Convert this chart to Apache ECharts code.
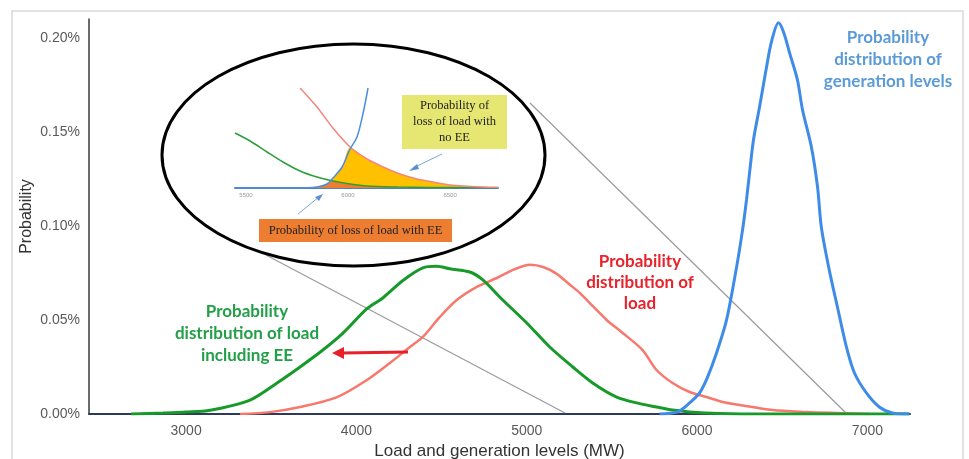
<!DOCTYPE html>
<html>
<head>
<meta charset="utf-8">
<script src="https://cdn.jsdelivr.net/npm/echarts@6/dist/echarts.min.js"></script>
<style>
  html, body { margin: 0; padding: 0; background: #fff; }
  #chart { width: 969px; height: 459px; }
</style>
</head>
<body>
<div id="chart"></div>
<script>
// tick labels
var xTicks = [3000, 4000, 5000, 6000, 7000]
var yTicks = [0, 0.05, 0.10, 0.15, 0.20]
var insetTicks = [5500, 6000, 6500]

// main curves: [MW, probability in %]
var loadCurve = [
  [3317, 0], [3493, 0.001], [3669, 0.0037], [3886, 0.009], [4062, 0.0181], [4196, 0.0271],
  [4314, 0.0356], [4390, 0.041], [4490, 0.0516], [4589, 0.0606], [4707, 0.0676], [4824, 0.0723],
  [4930, 0.077], [5018, 0.0793], [5100, 0.078], [5176, 0.0745], [5250, 0.069], [5311, 0.0644],
  [5370, 0.059], [5469, 0.05], [5563, 0.0431], [5680, 0.034], [5762, 0.0234], [5856, 0.0165],
  [5956, 0.0117], [6056, 0.009], [6150, 0.0064], [6249, 0.0048], [6443, 0.0021], [6642, 0.0011],
  [6836, 0.0005], [7012, 0]
]
var loadEECurve = [
  [2677, 0], [2865, 0.0005], [3000, 0.001], [3141, 0.002], [3375, 0.0074], [3534, 0.0165],
  [3669, 0.025], [3803, 0.034], [3921, 0.043], [4062, 0.056], [4155, 0.0617], [4273, 0.071],
  [4390, 0.0777], [4470, 0.0785], [4548, 0.0772], [4666, 0.0755], [4742, 0.0713], [4859, 0.0606],
  [5000, 0.0484], [5135, 0.0356], [5270, 0.025], [5387, 0.0165], [5528, 0.009], [5663, 0.0055],
  [5762, 0.0037], [5856, 0.0021], [5956, 0.0011], [6132, 0.0003], [6400, 0], [7246, 0]
]
var genCurve = [
  [5780, 0], [5886, 0.0011], [5956, 0.0059], [6015, 0.0112], [6062, 0.0197], [6114, 0.0324],
  [6173, 0.05], [6232, 0.0782], [6267, 0.0979], [6290, 0.1138], [6308, 0.1282], [6331, 0.1457],
  [6367, 0.1633], [6408, 0.1846], [6437, 0.198], [6478, 0.208], [6508, 0.203], [6543, 0.192],
  [6589, 0.1777], [6619, 0.1617], [6671, 0.142], [6707, 0.1208], [6730, 0.099], [6777, 0.0761],
  [6824, 0.0569], [6877, 0.0356], [6924, 0.0218], [6994, 0.0112], [7070, 0.0037], [7147, 0.0005],
  [7246, 0]
]

// inset (zoomed sketch, relative units 0-100)
var insetLoadEE = [
  [5446, 55], [5520, 47], [5603, 36], [5681, 26], [5765, 17], [5848, 11], [5926, 7],
  [6010, 4], [6093, 2], [6245, 1], [6400, 0.5], [6735, 0.3]
]
var insetLoad = [
  [5765, 100], [5848, 81], [5926, 60], [6010, 41], [6093, 29], [6172, 21], [6255, 14],
  [6338, 9], [6417, 6], [6500, 3], [6662, 1], [6735, 0.8]
]
var insetGen = [
  [5446, 0], [5750, 0], [5848, 1], [5897, 4], [5926, 10], [5971, 21], [6010, 39],
  [6044, 51], [6074, 75], [6098, 100]
]
var insetLolpNoEE = [
  [5830, 0], [5848, 1], [5897, 4], [5926, 10], [5971, 21], [6010, 40], [6093, 29],
  [6172, 21], [6255, 14], [6338, 9], [6417, 6], [6500, 3], [6662, 1], [6735, 0.8]
]
var insetLolpEE = [
  [5830, 0], [5848, 1], [5897, 4], [5926, 7], [5971, 5], [6010, 4], [6093, 2], [6245, 1], [6400, 0.3]
]

var chart = echarts.init(document.getElementById('chart'))

var annoFont = 'Lato, "Open Sans", sans-serif'
var serif = '"Liberation Serif", "DejaVu Serif", serif'
var plain = function (v) { return String(v) }

function lineSeries (data, color, width, xi) {
  return {
    type: 'line',
    xAxisIndex: xi,
    yAxisIndex: xi,
    data: data,
    smooth: 0.3,
    symbol: 'none',
    silent: true,
    lineStyle: { color: color, width: width }
  }
}

function areaSeries (data, color) {
  return {
    type: 'line',
    xAxisIndex: 1,
    yAxisIndex: 1,
    data: data,
    smooth: 0.3,
    symbol: 'none',
    silent: true,
    lineStyle: { width: 0 },
    areaStyle: { color: color, opacity: 1 }
  }
}

chart.setOption({
  animation: false,
  grid: [
    { left: 89, right: 59, top: 19, bottom: 45, outerBoundsMode: 'none', containLabel: false },
    { left: 235, top: 88, width: 263, height: 100, outerBoundsMode: 'none', containLabel: false }
  ],
  xAxis: [
    {
      type: 'value',
      min: 2430,
      max: 7250,
      name: 'Load and generation levels (MW)',
      nameLocation: 'middle',
      nameGap: 28,
      nameTextStyle: { fontSize: 17, color: '#333', fontFamily: 'Liberation Sans, Arial' },
      splitLine: { show: false },
      axisTick: { show: false },
      axisLine: { lineStyle: { color: '#2E3A59', width: 2 } },
      axisLabel: {
        customValues: xTicks,
        formatter: plain,
        fontSize: 14,
        color: '#595959',
        margin: 10,
        fontFamily: 'Liberation Sans, Arial'
      }
    },
    {
      type: 'value',
      gridIndex: 1,
      min: 5446,
      max: 6735,
      splitLine: { show: false },
      axisTick: { show: false },
      axisLine: { lineStyle: { color: '#5580C2', width: 2 } },
      axisLabel: {
        customValues: insetTicks,
        formatter: plain,
        fontSize: 6,
        color: '#999',
        margin: 4,
        fontFamily: 'Liberation Sans, Arial'
      }
    }
  ],
  yAxis: [
    {
      type: 'value',
      min: 0,
      max: 0.21,
      name: 'Probability',
      nameLocation: 'middle',
      nameGap: 54,
      nameMoveOverlap: false,
      nameTextStyle: { fontSize: 16, color: '#333', fontFamily: 'Liberation Sans, Arial' },
      splitLine: { show: false },
      axisTick: { show: false },
      axisLine: { show: true, lineStyle: { color: '#3a3a3a', width: 1.5 } },
      axisLabel: {
        customValues: yTicks,
        fontSize: 14,
        color: '#595959',
        margin: 9,
        fontFamily: 'Liberation Sans, Arial',
        formatter: function (v) { return v.toFixed(2) + '%' }
      }
    },
    {
      type: 'value',
      gridIndex: 1,
      min: 0,
      max: 100,
      show: false
    }
  ],
  series: [
    lineSeries(loadCurve, '#F7786C', 2.5, 0),
    lineSeries(loadEECurve, '#179A2A', 3, 0),
    lineSeries(genCurve, '#3F8CE8', 3, 0),
    areaSeries(insetLolpNoEE, '#FFC000'),
    areaSeries(insetLolpEE, '#ED7D31'),
    lineSeries(insetLoadEE, '#2E9E3A', 1.5, 1),
    lineSeries(insetLoad, '#F4867C', 1.5, 1),
    lineSeries(insetGen, '#4C8EDB', 1.5, 1)
  ],
  graphic: [
    // outer frame
    { type: 'rect', z: 0, shape: { x: 12, y: 11, width: 951, height: 470 }, style: { fill: 'none', stroke: '#D9D9D9', lineWidth: 1.5 } },
    // zoom guide lines
    { type: 'line', z: 1, shape: { x1: 266, y1: 255, x2: 565, y2: 413 }, style: { stroke: '#9A9A9A', lineWidth: 1.2 } },
    { type: 'line', z: 1, shape: { x1: 530, y1: 103, x2: 846, y2: 413 }, style: { stroke: '#9A9A9A', lineWidth: 1.2 } },
    // inset ellipse
    { type: 'ellipse', z: 10, shape: { cx: 353.5, cy: 155, rx: 191.5, ry: 111 }, style: { fill: 'none', stroke: '#000', lineWidth: 3 } },
    // inset callout: no EE
    { type: 'rect', z: 10, shape: { x: 402, y: 95, width: 105, height: 54 }, style: { fill: '#E6E672' } },
    {
      type: 'text', z: 11, x: 454.5, y: 122,
      style: { text: 'Probability of\nloss of load with\nno EE', fill: '#222', font: '12.5px ' + serif, lineHeight: 16, align: 'center', verticalAlign: 'middle' }
    },
    { type: 'line', z: 11, shape: { x1: 442, y1: 154, x2: 413, y2: 168 }, style: { stroke: '#7BA4D6', lineWidth: 1 } },
    { type: 'polygon', z: 11, shape: { points: [[409, 171], [417, 164], [419, 169]] }, style: { fill: '#5B8FD0' } },
    // inset callout: with EE
    { type: 'rect', z: 10, shape: { x: 259, y: 219, width: 193, height: 23 }, style: { fill: '#ED7D31' } },
    {
      type: 'text', z: 11, x: 355.5, y: 231,
      style: { text: 'Probability of loss of load with EE', fill: '#222', font: '12.5px ' + serif, align: 'center', verticalAlign: 'middle' }
    },
    { type: 'line', z: 11, shape: { x1: 298, y1: 214, x2: 319, y2: 197 }, style: { stroke: '#7BA4D6', lineWidth: 1 } },
    { type: 'polygon', z: 11, shape: { points: [[323, 194], [315, 197], [319, 201]] }, style: { fill: '#5B8FD0' } },
    // shift arrow
    { type: 'line', z: 11, shape: { x1: 408, y1: 352, x2: 342, y2: 353 }, style: { stroke: '#E8202A', lineWidth: 3 } },
    { type: 'polygon', z: 11, shape: { points: [[332, 353], [344, 347], [344, 359]] }, style: { fill: '#E8202A' } },
    // curve labels
    {
      type: 'text', z: 11, x: 247, y: 334,
      style: { text: 'Probability\ndistribution of load\nincluding EE', fill: '#23A047', font: 'bold 17px ' + annoFont, lineHeight: 22, align: 'center', verticalAlign: 'middle' }
    },
    {
      type: 'text', z: 11, x: 640, y: 283,
      style: { text: 'Probability\ndistribution of\nload', fill: '#E8232B', font: 'bold 17px ' + annoFont, lineHeight: 21, align: 'center', verticalAlign: 'middle' }
    },
    {
      type: 'text', z: 11, x: 888, y: 60,
      style: { text: 'Probability\ndistribution of\ngeneration levels', fill: '#5B9BD5', font: 'bold 17px ' + annoFont, lineHeight: 22, align: 'center', verticalAlign: 'middle' }
    }
  ]
})
</script>
</body>
</html>
